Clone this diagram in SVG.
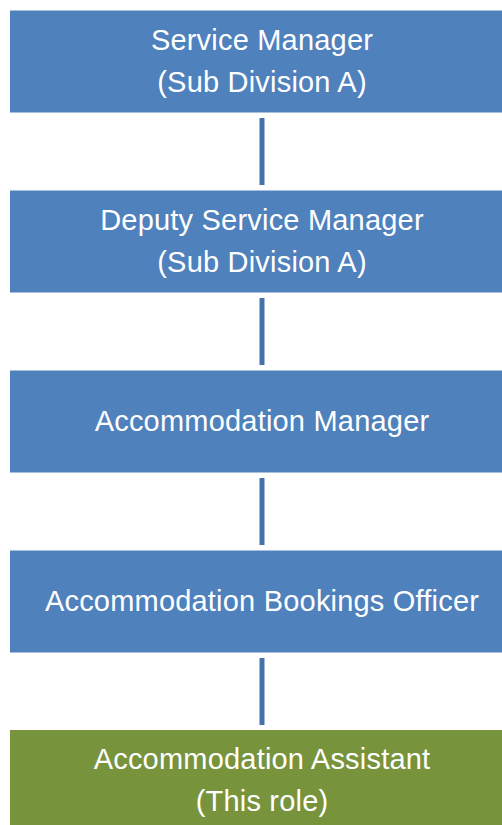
<svg xmlns="http://www.w3.org/2000/svg" width="502" height="825" viewBox="0 0 502 825">
  <style>
    .box { fill: #4F81BD; }
    .box.current { fill: #77933C; }
    .label { font-family: "Liberation Sans", Arial, sans-serif; font-size: 29px; letter-spacing: 0.2px; fill: #FFFFFF; text-anchor: middle; }
    .link { fill: #4672AA; }
  </style>
  <rect width="502" height="825" fill="#FFFFFF"/>

  <!-- vertical reporting lines -->
  <g id="connectors">
    <rect class="link" x="259.5" y="118" width="5" height="67"/>
    <rect class="link" x="259.5" y="298" width="5" height="67"/>
    <rect class="link" x="259.5" y="478" width="5" height="67"/>
    <rect class="link" x="259.5" y="658" width="5" height="67"/>
  </g>

  <g id="service-manager">
    <rect class="box" x="10" y="10.5" width="504" height="102"/>
    <text class="label" x="262" y="50">Service Manager</text>
    <text class="label" x="262" y="92">(Sub Division A)</text>
  </g>

  <g id="deputy-service-manager">
    <rect class="box" x="10" y="190.5" width="504" height="102"/>
    <text class="label" x="262" y="230">Deputy Service Manager</text>
    <text class="label" x="262" y="272">(Sub Division A)</text>
  </g>

  <g id="accommodation-manager">
    <rect class="box" x="10" y="370.5" width="504" height="102"/>
    <text class="label" x="262" y="431">Accommodation Manager</text>
  </g>

  <g id="accommodation-bookings-officer">
    <rect class="box" x="10" y="550.5" width="504" height="102"/>
    <text class="label" x="262" y="611">Accommodation Bookings Officer</text>
  </g>

  <g id="accommodation-assistant">
    <rect class="box current" x="10" y="730" width="504" height="102"/>
    <text class="label" x="262" y="769">Accommodation Assistant</text>
    <text class="label" x="262" y="811">(This role)</text>
  </g>
</svg>
